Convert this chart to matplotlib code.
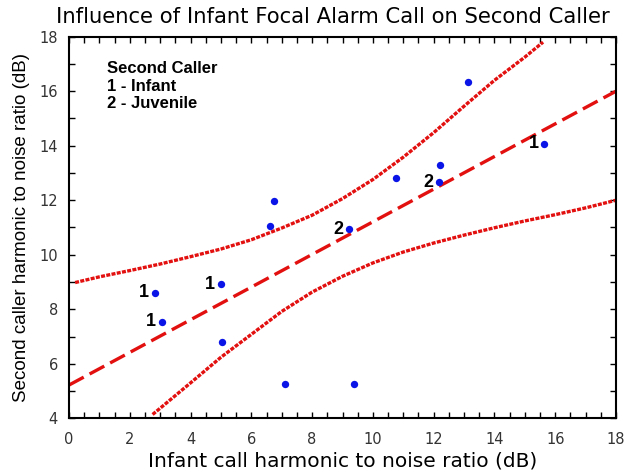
import numpy as np
import matplotlib
matplotlib.use("Agg")
import matplotlib.pyplot as plt
from matplotlib.ticker import MultipleLocator

# data points (infant HNR, second caller HNR)
infant_hnr = [2.82, 3.05, 4.99, 5.05, 7.12, 9.39, 6.60, 6.75, 9.20, 10.76, 12.17, 12.22, 13.13, 15.63]
caller_hnr = [8.60, 7.54, 8.91, 6.79, 5.26, 5.26, 11.07, 11.96, 10.93, 12.82, 12.66, 13.29, 16.35, 14.07]

# labelled points: index -> second caller type
point_labels = {0: "1", 1: "1", 2: "1", 13: "1", 8: "2", 10: "2"}

# fitted line
fit_x = [0, 18]
fit_y = [5.22, 16.0]

# confidence bands
upper_x = [0.2, 1, 2, 3, 4, 5, 6, 7, 8, 9, 10, 11, 12, 13, 14, 15, 15.6]
upper_y = [8.98, 9.19, 9.42, 9.66, 9.93, 10.21, 10.55, 10.98, 11.45, 12.06, 12.76, 13.58, 14.48, 15.45, 16.40, 17.25, 17.80]
lower_x = [2.75, 3, 4, 5, 6, 7, 8, 9, 10, 11, 12, 13, 14, 15, 16, 17, 18]
lower_y = [4.14, 4.37, 5.30, 6.24, 7.08, 7.92, 8.63, 9.21, 9.70, 10.10, 10.43, 10.72, 10.99, 11.24, 11.47, 11.72, 12.0]

red = "#e31010"
blue = "#0a14e6"

fig = plt.figure(figsize=(6.31, 4.71), dpi=100)
ax = fig.add_axes([0.1094, 0.1119, 0.8668, 0.8102])

ax.plot(upper_x, upper_y, color=red, lw=2.4, ls=(0, (1.2, 0.4)))
ax.plot(lower_x, lower_y, color=red, lw=2.4, ls=(0, (1.2, 0.4)))
ax.plot(fit_x, fit_y, color=red, lw=2.4, ls=(0, (5, 2)))

ax.scatter(infant_hnr, caller_hnr, s=28, color=blue, zorder=3, linewidths=0)

for i, lab in point_labels.items():
    ax.text(infant_hnr[i] - 0.18, caller_hnr[i], lab, ha="right", va="center",
            fontsize=13, fontweight="bold", family="Liberation Sans")

ax.text(1.24, 17.1, "Second Caller\n1 - Infant\n2 - Juvenile", ha="left", va="top",
        fontsize=12, fontweight="bold", family="Liberation Sans", linespacing=1.2)

ax.set_xlim(0, 18)
ax.set_ylim(4, 18)
ax.xaxis.set_major_locator(MultipleLocator(2))
ax.xaxis.set_minor_locator(MultipleLocator(0.5))
ax.yaxis.set_major_locator(MultipleLocator(2))
ax.yaxis.set_minor_locator(MultipleLocator(1))
ax.tick_params(which="both", direction="in", top=True, right=True, length=4, width=1,
               labelsize=10.5, labelcolor="#333333")
ax.tick_params(axis="x", which="major", pad=10)
ax.tick_params(axis="y", which="major", pad=8)
for sp in ax.spines.values():
    sp.set_linewidth(1.5)

ax.set_xlabel("Infant call harmonic to noise ratio (dB)", fontsize=14.5, labelpad=3)
ax.set_ylabel("Second caller harmonic to noise ratio (dB)", fontsize=13.5,
              family="Liberation Sans", labelpad=7)
fig.text(0.528, 0.963, "Influence of Infant Focal Alarm Call on Second Caller",
         fontsize=15.2, ha="center", va="center")

fig.savefig("out.png", dpi=100)
